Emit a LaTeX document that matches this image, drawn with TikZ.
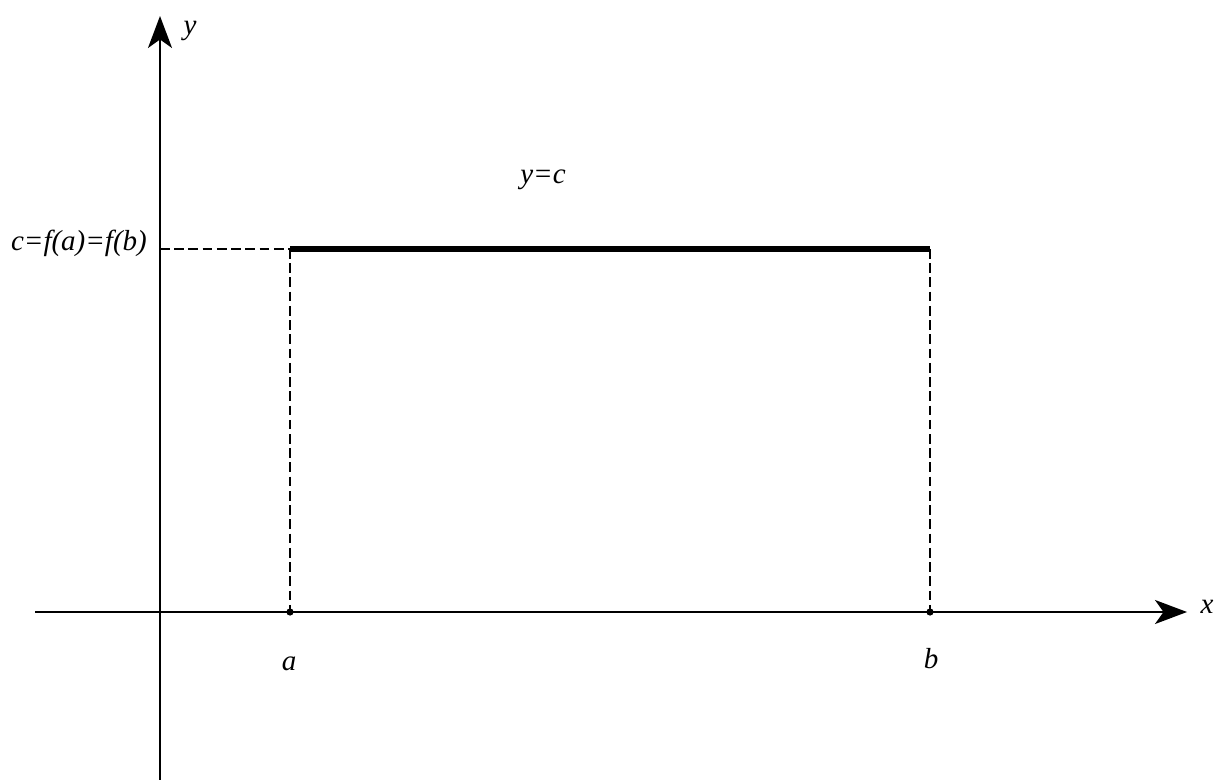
\documentclass[tikz,border=0pt]{standalone}
\usepackage{fontspec}
\setmainfont{Liberation Serif}
\usetikzlibrary{arrows.meta}

\begin{document}
\begin{tikzpicture}[x=0.02cm,y=-0.02cm,
  axis/.style={line width=1.2pt,-{Stealth[length=0.64cm,width=0.48cm,inset=0.17cm]}},
  guide/.style={line width=0.85pt,dash pattern=on 5.5pt off 2.6pt},
  lbl/.style={font=\fontsize{16.5}{19}\selectfont\itshape}]
  \useasboundingbox (0,0) rectangle (1220,780);
  % axes
  \coordinate (xs) at (35,612);
  \coordinate (xe) at (1187,612);
  \coordinate (ys) at (160,780);
  \coordinate (ye) at (160,16);
  \draw[axis] (xs) -- (xe);
  \draw[axis] (ys) -- (ye);
  \node[lbl] (xl) at (1207,607) {x};
  \node[lbl] (yl) at (190,31) {y};
  % the level c
  \coordinate (a) at (290,612);
  \coordinate (b) at (930,612);
  \coordinate (fa) at (290,249);
  \coordinate (fb) at (930,249);
  \coordinate (c) at (160,249);
  \draw[guide] (c) -- (fa);
  \draw[guide] (fa) -- (a);
  \draw[guide] (fb) -- (b);
  \draw[line width=3pt] (fa) -- (fb);
  \fill (a) circle (3.6);
  \fill (b) circle (3.6);
  \node[lbl] (al) at (289,664) {a};
  \node[lbl] (bl) at (931,659) {b};
  \node[lbl,anchor=east] (cl) at (153,243) {c=f(a)=f(b)};
  \node[lbl] (yc) at (543,180) {y=c};
\end{tikzpicture}
\end{document}
